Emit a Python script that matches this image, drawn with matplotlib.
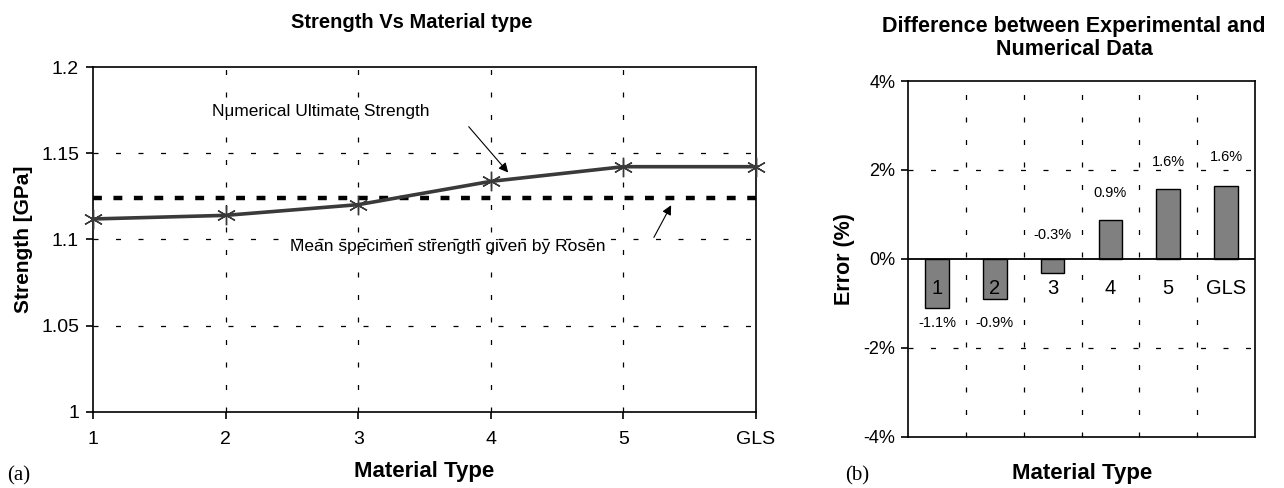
import matplotlib
matplotlib.use("Agg")
import matplotlib.pyplot as plt
from matplotlib import font_manager as fm

# ---------------- data ----------------
categories = ["1", "2", "3", "4", "5", "GLS"]
strength = [1.1119, 1.114, 1.1202, 1.1337, 1.1422, 1.1422]
rosen_mean = 1.1242
error_pct = [-1.115, -0.91, -0.31, 0.88, 1.57, 1.63]
error_labels = ["-1.1%", "-0.9%", "-0.3%", "0.9%", "1.6%", "1.6%"]
left_yticks = [1.0, 1.05, 1.1, 1.15, 1.2]
left_yticklabels = ["1", "1.05", "1.1", "1.15", "1.2"]
right_yticks = [-4, -2, 0, 2, 4]
right_yticklabels = ["-4%", "-2%", "0%", "2%", "4%"]

names = {f.name for f in fm.fontManager.ttflist}
narrow = "Liberation Sans Narrow" if "Liberation Sans Narrow" in names else "Liberation Sans"
sans = "Liberation Sans"
serif = "Liberation Serif"

fig = plt.figure(figsize=(12.84, 4.88), dpi=100)
W, H = 1284.0, 488.0

# ---------------- left panel ----------------
ax = fig.add_axes([93 / W, 1 - 412 / H, 663 / W, 345 / H])
x = list(range(len(categories)))
ax.set_xlim(0, len(categories) - 1)
ax.set_ylim(1.0, 1.2)
for yv in [1.05, 1.1, 1.15]:
    ax.axhline(yv, color="black", lw=0.9, ls=(0, (4, 14)), zorder=1)
for xv in x[1:-1]:
    ax.axvline(xv, color="black", lw=0.9, ls=(0, (4, 14)), zorder=1)
ax.axhline(rosen_mean, color="black", lw=3.2, ls=(0, (2.0, 2.6)), zorder=2)
ax.plot(x, strength, color="#3a3a3a", lw=2.6, marker=(6, 2, 0), ms=14,
        mec="#3a3a3a", mew=1.0, zorder=3, clip_on=False)
ax.set_xticks(x)
ax.set_xticklabels(categories, fontsize=14, family=narrow)
ax.set_yticks(left_yticks)
ax.set_yticklabels(left_yticklabels, fontsize=14, family=narrow)
ax.tick_params(axis="x", direction="out", length=5, width=1.2, pad=9)
ax.tick_params(axis="y", direction="out", length=5, width=1.2, pad=5)
for s in ax.spines.values():
    s.set_linewidth(1.2)
ax.set_ylabel("Strength [GPa]", fontsize=15, fontweight="bold", family=sans, labelpad=6)

ax.annotate("", xy=(3.145, 1.1376), xytext=(2.82, 1.1666),
            arrowprops=dict(arrowstyle="-|>", color="black", lw=0.8, mutation_scale=14))
ax.text(0.90, 1.174, "Numerical Ultimate Strength", fontsize=12.5, family=narrow,
        ha="left", va="center")
ax.annotate("", xy=(4.37, 1.1213), xytext=(4.22, 1.0998),
            arrowprops=dict(arrowstyle="-|>", color="black", lw=0.8, mutation_scale=14))
ax.text(1.486, 1.096, "Mean specimen strength given by Rosen", fontsize=12.5,
        family=narrow, ha="left", va="center")

fig.text(412 / W, 1 - 22 / H, "Strength Vs Material type", fontsize=14.5,
         fontweight="bold", family=sans, ha="center", va="center")
fig.text(424 / W, 1 - 472 / H, "Material Type", fontsize=16, fontweight="bold",
         family=sans, ha="center", va="center")
fig.text(7 / W, 1 - 476 / H, "(a)", fontsize=15, family=serif, ha="left", va="center")

# ---------------- right panel ----------------
bx = fig.add_axes([908 / W, 1 - 436.7 / H, 347 / W, 355.7 / H])
bx.set_xlim(-0.5, len(categories) - 0.5)
bx.set_ylim(-4, 4)
for yv in [-2, 2]:
    bx.axhline(yv, color="black", lw=0.9, ls=(0, (4, 14)), zorder=1)
for xv in [i + 0.5 for i in range(len(categories) - 1)]:
    bx.axvline(xv, color="black", lw=0.9, ls=(0, (4, 14)), zorder=1)
bx.bar(x, error_pct, width=0.41, color="#808080", edgecolor="black", lw=1.0, zorder=2)
bx.axhline(0, color="black", lw=1.3, zorder=3)
label_y = [-1.45, -1.45, 0.53, 1.49, 2.17, 2.29]
for i, (lab, ly) in enumerate(zip(error_labels, label_y)):
    bx.text(i, ly, lab, fontsize=10.5, family=sans, ha="center", va="center", zorder=4)
for i, c in enumerate(categories):
    bx.text(i, -0.67, c, fontsize=14.5, family=sans, ha="center", va="center", zorder=4)
bx.set_xticks([])
bx.set_yticks(right_yticks)
bx.set_yticklabels(right_yticklabels, fontsize=13, family=sans)
bx.tick_params(axis="y", direction="out", length=5, width=1.2, pad=4)
for s in bx.spines.values():
    s.set_linewidth(1.2)
bx.set_ylabel("Error (%)", fontsize=15.5, fontweight="bold", family=sans, labelpad=6)

fig.text(1074 / W, 1 - 38 / H, "Difference between Experimental and\nNumerical Data",
         fontsize=15.5, fontweight="bold", family=sans, ha="center", va="center",
         linespacing=1.1)
fig.text(1082 / W, 1 - 474 / H, "Material Type", fontsize=16, fontweight="bold",
         family=sans, ha="center", va="center")
fig.text(845 / W, 1 - 476 / H, "(b)", fontsize=15, family=serif, ha="left", va="center")

fig.savefig("out.png", dpi=100)
